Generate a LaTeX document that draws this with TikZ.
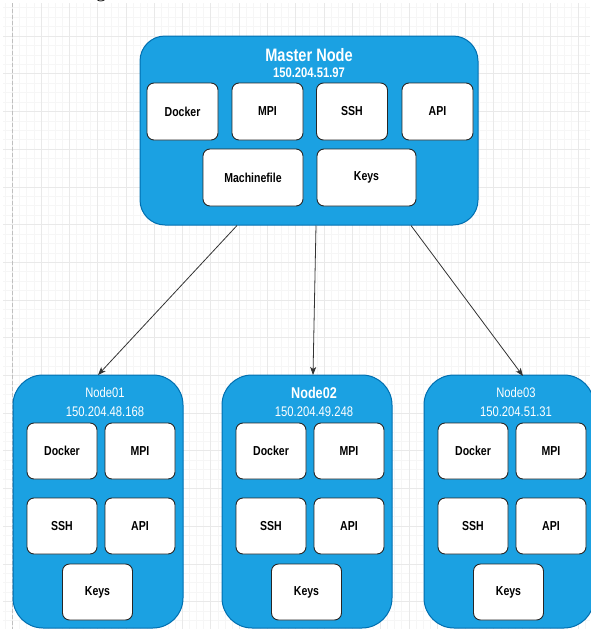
\documentclass[tikz,border=0pt]{standalone}
\usepackage{fontspec}
\setmainfont{Liberation Sans}[FakeStretch=0.81]
\newfontfamily\serifg{Liberation Serif}
\usetikzlibrary{arrows.meta}
\definecolor{nodeblue}{HTML}{1BA1E2}
\definecolor{nodeedge}{HTML}{006EAF}
\definecolor{gridmaj}{HTML}{E9E9E9}
\definecolor{gridmin}{HTML}{F6F6F6}
\definecolor{arrowgray}{HTML}{333333}
\begin{document}
\begin{tikzpicture}[x=1pt,y=-1pt,
  outerbox/.style={draw=nodeedge, fill=nodeblue, line width=1pt, rounded corners=#1, inner sep=0pt},
  outerbox/.default=25pt,
  innerbox/.style={draw=black!85, fill=white, line width=0.9pt, rounded corners=7pt,
     minimum width=#1, minimum height=56pt, inner sep=0pt,
     font=\fontsize{13}{15}\selectfont\bfseries},
  innerbox/.default=70pt,
  titlebold/.style={text=white, inner sep=0pt, font=\fontsize{#1}{#1}\selectfont\bfseries},
  titlereg/.style={text=white, inner sep=0pt, font=\fontsize{#1}{#1}\selectfont},
  wtreg/.style={titlereg=13.8},
  wtbold/.style={titlebold=15.6},
  link/.style={draw=arrowgray, line width=0.8pt, -{Stealth[length=8pt,width=6pt,inset=2pt]}}
]
\useasboundingbox (0,0) rectangle (590,629);
% background grid
\foreach \k in {0,...,82} \draw[gridmin, line width=0.5pt] ({5.5+7.075*\k},3) -- ({5.5+7.075*\k},629);
\foreach \k in {0,...,65} \draw[gridmin, line width=0.5pt] (3,{7.7+9.425*\k}) -- (590,{7.7+9.425*\k});
\foreach \k in {0,...,20} \draw[gridmaj, line width=0.5pt] ({12.6+28.3*\k},3) -- ({12.6+28.3*\k},629);
\foreach \k in {0,...,15} \draw[gridmaj, line width=0.5pt] (3,{36+37.7*\k}) -- (590,{36+37.7*\k});
\draw[gray!50, line width=0.6pt, dash pattern=on 4pt off 2pt] (12.6,3) -- (12.6,629);
\node[anchor=base, inner sep=0pt, font=\serifg\fontsize{20}{20}\selectfont] (gfrag) at (101,-2) {g};

% master node
\node[outerbox, minimum width=338pt, minimum height=189pt] (master) at (309,130.5) {};
\node[titlebold=18] (mtitle) at (309,55) {Master Node};
\node[titlebold=13.9] (mip) at (309,73) {150.204.51.97};
\node[innerbox=71pt, minimum height=57pt] (mdocker) at (182.5,111.5) {Docker};
\node[innerbox=71pt, minimum height=57pt] (mmpi) at (267.5,111.5) {MPI};
\node[innerbox=71pt, minimum height=57pt] (mssh) at (352,111.5) {SSH};
\node[innerbox=71pt, minimum height=57pt] (mapi) at (437.5,111.5) {API};
\node[innerbox=100pt, minimum height=57pt] (mmach) at (253,177.5) {Machinefile};
\node[innerbox=99pt, minimum height=57pt] (mkeys) at (366.5,177.5) {Keys};

% worker nodes
\foreach \name/\left/\title/\ip/\tstyle in {n1/13/Node01/150.204.48.168/wtreg,
    n2/222/Node02/150.204.49.248/wtbold,
    n3/424/Node03/150.204.51.31/wtreg}{
  \node[outerbox=30pt, minimum width=170pt, minimum height=253pt] (\name) at ({\left+85},501.5) {};
  \node[style=\tstyle] (\name title) at ({\left+92},393) {\title};
  \node[titlereg=13.9] (\name ip) at ({\left+92},412) {\ip};
  \node[innerbox] (\name docker) at ({\left+49},451) {Docker};
  \node[innerbox] (\name mpi) at ({\left+127},451) {MPI};
  \node[innerbox] (\name ssh) at ({\left+49},526) {SSH};
  \node[innerbox] (\name api) at ({\left+127},526) {API};
  \node[innerbox] (\name keys) at ({\left+84.5},592) {Keys};
}

% connectors
\coordinate (m1) at (237,225.5);
\coordinate (m2) at (316,225.5);
\coordinate (m3) at (411,225.5);
\coordinate (t1) at (98,375);
\coordinate (t2) at (313,375);
\coordinate (t3) at (523,376);
\draw[link] (m1) -- (t1);
\draw[link] (m2) -- (t2);
\draw[link] (m3) -- (t3);
\end{tikzpicture}
\end{document}
